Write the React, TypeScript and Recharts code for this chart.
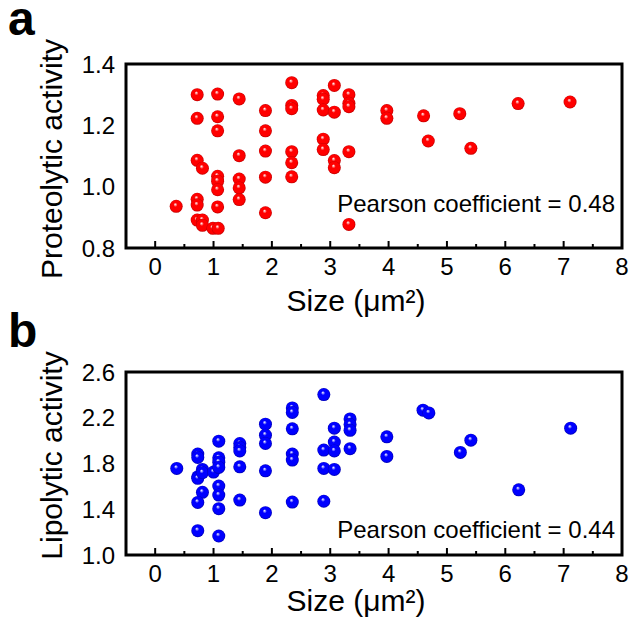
import { ScatterChart, Scatter, XAxis, YAxis, ReferenceArea, Label } from "recharts";

// panel a: size (µm²) vs proteolytic activity
const sizeA = [
  0.36, 0.72, 0.72, 0.72, 0.81, 0.72, 0.72, 0.72, 0.81, 0.81, 0.99, 1.08,
  1.07, 1.07, 1.07, 1.07, 1.07, 1.07, 1.07, 1.44, 1.44, 1.44, 1.44, 1.44,
  1.89, 1.89, 1.89, 1.89, 1.89, 2.34, 2.34, 2.34, 2.34, 2.34, 2.34,
  2.88, 2.88, 2.88, 2.88, 2.88, 3.07, 3.07, 3.07, 3.07, 3.32, 3.32, 3.32, 3.32, 3.32,
  3.97, 3.97, 4.6, 4.68, 5.22, 5.41, 6.22, 7.11,
];
const proteolytic = [
  0.936, 1.3, 1.223, 1.086, 1.06, 0.959, 0.94, 0.891, 0.891, 0.874, 0.864, 0.864,
  1.302, 1.228, 1.182, 1.034, 1.018, 0.99, 0.934, 1.286, 1.101, 1.025, 0.996, 0.958,
  1.248, 1.182, 1.116, 1.031, 0.915, 1.339, 1.265, 1.254, 1.114, 1.078, 1.032,
  1.297, 1.285, 1.25, 1.155, 1.121, 1.33, 1.243, 1.085, 1.062, 1.3, 1.272, 1.261, 1.114, 0.877,
  1.248, 1.223, 1.231, 1.149, 1.238, 1.125, 1.271, 1.276,
];

// panel b: size (µm²) vs lipolytic activity
const sizeB = [
  0.37, 0.73, 0.73, 0.73, 0.73, 0.81, 0.81, 0.81, 0.73, 0.73, 1.0,
  1.09, 1.09, 1.09, 1.09, 1.09, 1.09, 1.09, 1.09, 1.45, 1.45, 1.45, 1.45, 1.45,
  1.89, 1.89, 1.89, 1.89, 1.89, 2.35, 2.35, 2.35, 2.35, 2.35, 2.35,
  2.89, 2.89, 2.89, 2.89, 3.07, 3.07, 3.07, 3.07, 3.34, 3.34, 3.34, 3.34,
  3.97, 3.97, 4.59, 4.69, 5.23, 5.41, 6.23, 7.12,
];
const lipolytic = [
  1.757, 1.882, 1.853, 1.684, 1.67, 1.748, 1.719, 1.548, 1.46, 1.213, 1.725,
  1.995, 1.85, 1.812, 1.766, 1.603, 1.524, 1.405, 1.166, 1.975, 1.94, 1.91, 1.771, 1.48,
  2.144, 2.048, 1.975, 1.736, 1.37, 2.286, 2.246, 2.103, 1.882, 1.83, 1.463,
  2.403, 1.917, 1.757, 1.47, 2.109, 1.987, 1.91, 1.748, 2.19, 2.14, 2.09, 1.93,
  2.033, 1.862, 2.266, 2.242, 1.897, 2.004, 1.57, 2.109,
];

const xTicks = [0, 0.5, 1, 1.5, 2, 2.5, 3, 3.5, 4, 4.5, 5, 5.5, 6, 6.5, 7, 7.5, 8];
const yTicksA = [0.8, 1.0, 1.2, 1.4];
const yTicksB = [1.0, 1.4, 1.8, 2.2, 2.6];

const FONT = '"Liberation Sans", Arial, Helvetica, sans-serif';

const rowsA = sizeA.map((x, i) => ({ x, y: proteolytic[i] }));
const rowsB = sizeB.map((x, i) => ({ x, y: lipolytic[i] }));

function XTick(props: any) {
  const { x, y, payload } = props;
  const v = payload.value;
  const major = Number.isInteger(v);
  return (
    <g>
      <line x1={x} x2={x} y1={y} y2={y - (major ? 7 : 4)} stroke="#000" strokeWidth={2} />
      {major && (
        <text x={x} y={y + 27} textAnchor="middle" fontSize={24} fontFamily={FONT} fill="#000">
          {v}
        </text>
      )}
    </g>
  );
}

function ball(grad: string) {
  return (props: any) => {
    const { cx, cy } = props;
    if (cx == null || cy == null) return <g />;
    return <circle cx={cx} cy={cy} r={6.5} fill={`url(#${grad})`} />;
  };
}

type PanelProps = {
  top: number;
  height: number;
  marginTop: number;
  plotH: number;
  letter: string;
  letterDy: number;
  yTitle: string;
  yTitleShift: number;
  xTitleDy: number;
  pearson: string;
  pearsonDy: number;
  rows: { x: number; y: number }[];
  yDomain: [number, number];
  yTicks: number[];
  grad: string;
  light: string;
  base: string;
  dark: string;
};

function Panel(p: PanelProps) {
  const xAxisH = p.height - p.marginTop - p.plotH;
  return (
    <div style={{ position: "absolute", left: 0, top: p.top }}>
      <ScatterChart
        width={632}
        height={p.height}
        margin={{ top: p.marginTop, right: 10, bottom: 0, left: 0 }}
      >
        <defs>
          <radialGradient id={p.grad} cx="50%" cy="50%" r="50%" fx="42%" fy="34%">
            <stop offset="0%" stopColor="#ffffff" />
            <stop offset="16%" stopColor={p.light} />
            <stop offset="32%" stopColor={p.base} />
            <stop offset="82%" stopColor={p.base} />
            <stop offset="100%" stopColor={p.dark} />
          </radialGradient>
        </defs>
        <XAxis
          type="number"
          dataKey="x"
          domain={[-0.5, 8]}
          ticks={xTicks}
          interval={0}
          allowDataOverflow
          axisLine={false}
          tickLine={false}
          tickSize={0}
          tickMargin={0}
          height={xAxisH}
          tick={<XTick />}
        >
          <Label
            content={(lp: any) => {
              const vb = lp.viewBox;
              return (
                <text
                  x={vb.x + 230}
                  y={vb.y + p.xTitleDy}
                  textAnchor="middle"
                  fontSize={30}
                  fontFamily={FONT}
                  fill="#000"
                >
                  Size (μm²)
                </text>
              );
            }}
          />
        </XAxis>
        <YAxis
          type="number"
          dataKey="y"
          domain={p.yDomain}
          ticks={p.yTicks}
          interval={0}
          allowDataOverflow
          width={126}
          axisLine={false}
          tickLine={false}
          tickSize={0}
          tickMargin={11}
          tickFormatter={(v: number) => v.toFixed(1)}
          tick={{ fontSize: 24, fill: "#000", fontFamily: FONT }}
        >
          <Label
            content={(lp: any) => {
              const vb = lp.viewBox;
              const cy = vb.y + vb.height / 2 + p.yTitleShift;
              return (
                <g>
                  <text
                    x={8}
                    y={vb.y + p.letterDy}
                    fontSize={48}
                    fontWeight="bold"
                    fontFamily={FONT}
                    fill="#000"
                  >
                    {p.letter}
                  </text>
                  <text
                    x={62}
                    y={cy}
                    transform={`rotate(-90, 62, ${cy})`}
                    textAnchor="middle"
                    fontSize={30}
                    fontFamily={FONT}
                    fill="#000"
                  >
                    {p.yTitle}
                  </text>
                </g>
              );
            }}
          />
        </YAxis>
        <ReferenceArea
          x1={-0.5}
          x2={8}
          y1={p.yDomain[0]}
          y2={p.yDomain[1]}
          stroke="#000"
          strokeWidth={3}
          fill="none"
          fillOpacity={0}
          ifOverflow="visible"
        >
          <Label
            content={(lp: any) => {
              const vb = lp.viewBox;
              return (
                <text
                  x={vb.x + vb.width - 7}
                  y={vb.y + vb.height - p.pearsonDy}
                  textAnchor="end"
                  fontSize={24}
                  fontFamily={FONT}
                  fill="#000"
                >
                  {p.pearson}
                </text>
              );
            }}
          />
        </ReferenceArea>
        <Scatter data={p.rows} shape={ball(p.grad)} isAnimationActive={false} />
      </ScatterChart>
    </div>
  );
}

export default function App() {
  return (
    <div style={{ position: "absolute", left: 0, top: 0, width: 632, height: 626, background: "#fff" }}>
      <Panel
        top={0}
        height={320}
        marginTop={64}
        plotH={184}
        letter="a"
        letterDy={-29}
        yTitle="Proteolytic activity"
        yTitleShift={3}
        xTitleDy={63}
        pearson="Pearson coefficient = 0.48"
        pearsonDy={36}
        rows={rowsA}
        yDomain={[0.8, 1.4]}
        yTicks={yTicksA}
        grad="ballRed"
        light="#ff8080"
        base="#ff0000"
        dark="#c00000"
      />
      <Panel
        top={298}
        height={328}
        marginTop={74}
        plotH={183}
        letter="b"
        letterDy={-25}
        yTitle="Lipolytic activity"
        yTitleShift={-8}
        xTitleDy={56}
        pearson="Pearson coefficient = 0.44"
        pearsonDy={17}
        rows={rowsB}
        yDomain={[1.0, 2.6]}
        yTicks={yTicksB}
        grad="ballBlue"
        light="#8080ff"
        base="#0000ff"
        dark="#0000b0"
      />
    </div>
  );
}
